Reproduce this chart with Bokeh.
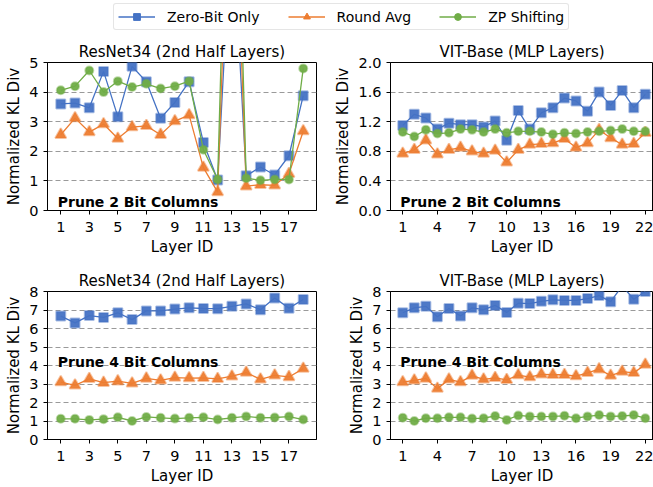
from bokeh.plotting import figure
from bokeh.layouts import column, row
from bokeh.models import (Legend, LegendItem, Label, FixedTicker, Range1d,
                          PrintfTickFormatter)
from bokeh.embed import file_html
from bokeh.resources import INLINE

FONT = "DejaVu Sans"
BLUE, ORANGE, GREEN = "#4472C4", "#ED7D31", "#70AD47"

series_names = ["Zero-Bit Only", "Round Avg", "ZP Shifting"]
resnet_layers = list(range(1, 19))
vit_layers = list(range(1, 23))
resnet_xticks = [1, 3, 5, 7, 9, 11, 13, 15, 17]
vit_xticks = [1, 4, 7, 10, 13, 16, 19, 22]

# Prune 2 bit columns
resnet2_zero = [3.6, 3.63, 3.47, 4.7, 3.17, 4.87, 4.35, 3.12, 3.65, 4.35, 2.3, 1.03,
                10.0, 1.17, 1.47, 1.2, 1.85, 3.88]
resnet2_round = [2.56, 3.12, 2.65, 2.92, 2.43, 2.82, 2.86, 2.56, 3.02, 3.22, 1.45, 0.62,
                 14.0, 0.82, 0.87, 0.85, 1.24, 2.68]
resnet2_zp = [4.06, 4.2, 4.73, 4.0, 4.37, 4.17, 4.28, 4.12, 4.2, 4.37, 2.05, 1.05,
              18.0, 1.09, 1.02, 1.05, 1.05, 4.8]

vit2_zero = [1.15, 1.30, 1.25, 1.1, 1.18, 1.16, 1.16, 1.13, 1.21, 0.95, 1.35, 1.1,
             1.32, 1.39, 1.52, 1.48, 1.34, 1.6, 1.42, 1.62, 1.39, 1.57]
vit2_round = [0.77, 0.82, 0.95, 0.76, 0.82, 0.85, 0.8, 0.77, 0.81, 0.65, 0.82, 0.89,
              0.9, 0.91, 0.97, 0.85, 0.91, 1.09, 0.98, 0.89, 0.9, 1.05]
vit2_zp = [1.06, 1.0, 1.09, 1.04, 1.05, 1.1, 1.09, 1.06, 1.1, 1.05, 1.07, 1.07,
           1.06, 1.03, 1.05, 1.04, 1.06, 1.07, 1.08, 1.1, 1.07, 1.07]

# Prune 4 bit columns
resnet4_zero = [6.67, 6.3, 6.7, 6.6, 6.85, 6.48, 6.95, 6.95, 7.05, 7.12, 7.08, 7.07,
                7.2, 7.33, 7.02, 7.65, 7.1, 7.57]
resnet4_round = [3.1, 2.93, 3.28, 3.07, 3.15, 3.03, 3.3, 3.2, 3.35, 3.32, 3.33, 3.28,
                 3.42, 3.62, 3.25, 3.47, 3.38, 3.83]
resnet4_zp = [1.12, 1.12, 1.06, 1.1, 1.2, 1.0, 1.22, 1.17, 1.13, 1.17, 1.2, 1.08,
              1.17, 1.25, 1.17, 1.19, 1.24, 1.08]

vit4_zero = [6.85, 7.12, 7.2, 6.63, 7.08, 6.68, 7.12, 7.02, 7.25, 6.87, 7.37, 7.35,
             7.47, 7.55, 7.52, 7.52, 7.62, 7.78, 7.45, 8.3, 7.58, 8.0]
vit4_round = [3.1, 3.2, 3.3, 2.75, 3.25, 3.1, 3.45, 3.25, 3.33, 3.22, 3.48, 3.37,
              3.52, 3.5, 3.5, 3.43, 3.6, 3.8, 3.45, 3.67, 3.6, 4.05]
vit4_zp = [1.18, 1.0, 1.15, 1.15, 1.2, 1.2, 1.13, 1.15, 1.27, 1.06, 1.3, 1.25,
           1.24, 1.25, 1.28, 1.15, 1.25, 1.32, 1.25, 1.27, 1.32, 1.15]

MARKERS = [("square", 9), ("triangle", 11), ("circle", 8)]
LEG_SIZES = [8, 10, 7]
COLORS = [BLUE, ORANGE, GREEN]


def panel(title, layers, series, xr, yr, xticks, yticks, annot, annot_xy,
          width, height, mbl, mbr, mbt, mbb, yfmt=None):
    p = figure(width=width, height=height, title=title,
               x_range=Range1d(*xr), y_range=Range1d(*yr),
               min_border_left=mbl, min_border_right=mbr,
               min_border_top=mbt, min_border_bottom=mbb,
               output_backend="svg", toolbar_location=None)
    p.title.text_font = FONT
    p.title.text_font_size = "15px"
    p.title.text_font_style = "normal"
    p.title.text_color = "black"
    p.title.align = "center"
    p.title.standoff = 4
    p.xaxis.axis_label = "Layer ID"
    p.yaxis.axis_label = "Normalized KL Div"
    p.xaxis.ticker = FixedTicker(ticks=xticks)
    p.yaxis.ticker = FixedTicker(ticks=yticks)
    if yfmt:
        p.yaxis.formatter = PrintfTickFormatter(format=yfmt)
    for ax in (p.xaxis[0], p.yaxis[0]):
        ax.axis_label_text_font = FONT
        ax.axis_label_text_font_size = "15px"
        ax.axis_label_text_font_style = "normal"
        ax.axis_label_text_color = "black"
        ax.major_label_text_font = FONT
        ax.major_label_text_font_size = "14.5px"
        ax.major_label_text_color = "black"
        ax.major_tick_out = 4
        ax.major_tick_in = 0
        ax.minor_tick_out = 0
        ax.minor_tick_in = 0
        ax.axis_line_color = "black"
        ax.major_tick_line_color = "black"
    p.xaxis.major_label_standoff = 7
    p.xaxis.axis_label_standoff = 3
    p.yaxis.major_label_standoff = 5
    p.yaxis.axis_label_standoff = 3
    p.xgrid.visible = False
    p.ygrid.grid_line_color = "#9a9a9a"
    p.ygrid.grid_line_dash = "5 3"
    p.ygrid.grid_line_width = 1
    p.outline_line_color = "black"
    p.outline_line_alpha = 1
    for vals, (mk, sz), c in zip(series, MARKERS, COLORS):
        p.line(layers, vals, line_color=c, line_width=1.3)
        p.scatter(layers, vals, marker=mk, size=sz, fill_color=c, fill_alpha=0.95,
                  line_color=c, line_alpha=0.45, line_width=2)
    p.add_layout(Label(x=annot_xy[0], y=annot_xy[1], text=annot, text_font=FONT,
                       text_font_style="bold", text_font_size="14px",
                       text_baseline="alphabetic", text_color="black"))
    return p


LW, RW = 330, 323
LEG_H, TH, BH = 35, 225, 227

p1 = panel("ResNet34 (2nd Half Layers)", resnet_layers,
           [resnet2_zero, resnet2_round, resnet2_zp], (0.07, 18.93), (0, 5),
           resnet_xticks, [0, 1, 2, 3, 4, 5], "Prune 2 Bit Columns", (0.79, 0.28),
           LW, TH, 47, 14, 27, 50)
p2 = panel("VIT-Base (MLP Layers)", vit_layers,
           [vit2_zero, vit2_round, vit2_zp], (-0.06, 22.71), (0, 2.0),
           vit_xticks, [0, 0.4, 0.8, 1.2, 1.6, 2.0], "Prune 2 Bit Columns", (0.78, 0.11),
           RW, TH, 60, 0, 27, 50, yfmt="%.1f")
p3 = panel("ResNet34 (2nd Half Layers)", resnet_layers,
           [resnet4_zero, resnet4_round, resnet4_zp], (0.07, 18.93), (0, 8),
           resnet_xticks, list(range(0, 9)), "Prune 4 Bit Columns", (0.79, 4.19),
           LW, BH, 47, 14, 31, 48)
p4 = panel("VIT-Base (MLP Layers)", vit_layers,
           [vit4_zero, vit4_round, vit4_zp], (-0.06, 22.71), (0, 8),
           vit_xticks, list(range(0, 9)), "Prune 4 Bit Columns", (0.78, 4.19),
           RW, BH, 60, 0, 31, 48)

# legend strip
lf = figure(width=LW + RW, height=LEG_H, x_axis_type=None, y_axis_type=None,
            x_range=Range1d(0, 1), y_range=Range1d(0, 1), min_border=0,
            outline_line_color=None, output_backend="svg", toolbar_location=None)
items = []
for name, (mk, sz), ls, c in zip(series_names, MARKERS, LEG_SIZES, COLORS):
    lr = lf.line(x=[-10, -9], y=[-10, -9], line_color=c, line_width=1.3)
    sr = lf.scatter(x=[-10], y=[-10], marker=mk, size=ls, fill_color=c, line_color=c)
    items.append(LegendItem(label=name, renderers=[lr, sr]))
leg = Legend(items=items, orientation="horizontal", location=(113, 5),
             label_text_font=FONT, label_text_font_size="14px",
             label_text_color="black",
             glyph_width=37, glyph_height=17, label_height=17, label_standoff=12,
             spacing=28, padding=4, margin=0, border_line_color="#cccccc",
             border_line_width=1, border_radius=3)
lf.add_layout(leg, "center")

layout = column(lf, row(p1, p2), row(p3, p4))
open("out.html", "w").write(file_html(layout, INLINE))
